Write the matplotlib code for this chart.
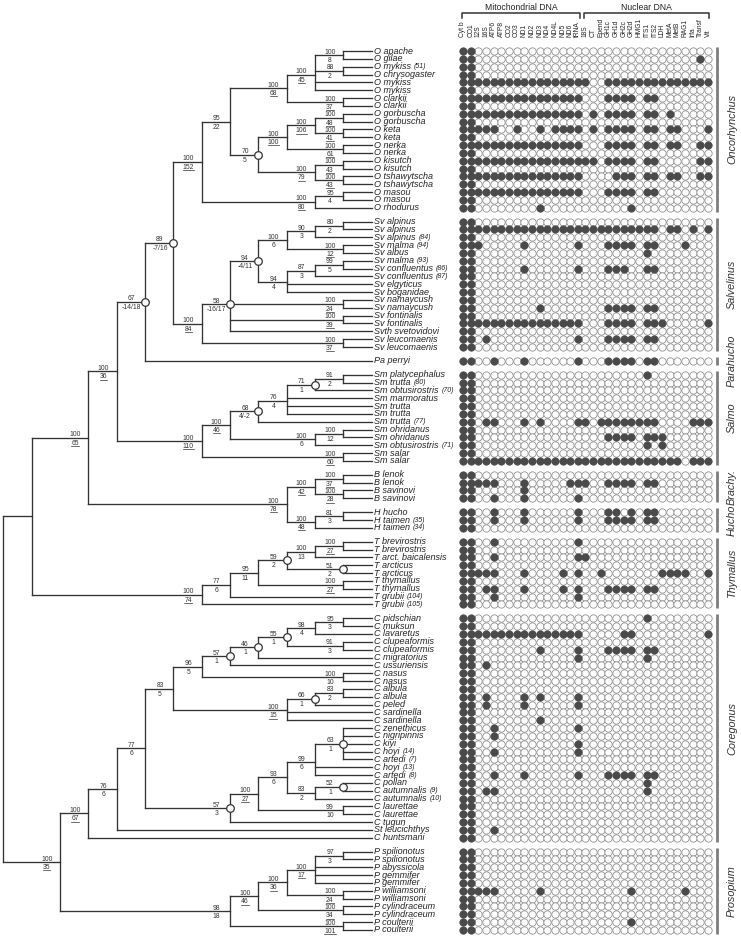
import matplotlib
matplotlib.use('Agg')
import matplotlib.pyplot as plt
import numpy as np

plt.rcParams['font.family'] = ['Liberation Sans', 'DejaVu Sans']

# ---------------- data ----------------
taxa = ["O apache", "O gilae", "O mykiss (51)", "O chrysogaster", "O mykiss", "O mykiss",
        "O clarkii", "O clarkii", "O gorbuscha", "O gorbuscha", "O keta", "O keta",
        "O nerka", "O nerka", "O kisutch", "O kisutch", "O tshawytscha", "O tshawytscha",
        "O masou", "O masou", "O rhodurus",
        "Sv alpinus", "Sv alpinus", "Sv alpinus (84)", "Sv malma (94)", "Sv albus",
        "Sv malma (93)", "Sv confluentus (86)", "Sv confluentus (87)", "Sv elgyticus",
        "Sv boganidae", "Sv namaycush", "Sv namaycush", "Sv fontinalis", "Sv fontinalis",
        "Svth svetovidovi", "Sv leucomaenis", "Sv leucomaenis",
        "Pa perryi",
        "Sm platycephalus", "Sm trutta (80)", "Sm obtusirostris (70)", "Sm marmoratus",
        "Sm trutta", "Sm trutta", "Sm trutta (77)", "Sm ohridanus", "Sm ohridanus",
        "Sm obtusirostris (71)", "Sm salar", "Sm salar",
        "B lenok", "B lenok", "B savinovi", "B savinovi",
        "H hucho", "H taimen (35)", "H taimen (34)",
        "T brevirostris", "T brevirostris", "T arct. baicalensis", "T arcticus", "T arcticus",
        "T thymallus", "T thymallus", "T grubii (104)", "T grubii (105)",
        "C pidschian", "C muksun", "C lavaretus", "C clupeaformis", "C clupeaformis",
        "C migratorius", "C ussuriensis", "C nasus", "C nasus", "C albula", "C albula",
        "C peled", "C sardinella", "C sardinella", "C zenethicus", "C nigripinnis", "C kiyi",
        "C hoyi (14)", "C artedi (7)", "C hoyi (13)", "C artedi (8)", "C pollan",
        "C autumnalis (9)", "C autumnalis (10)", "C laurettae", "C laurettae", "C tugun",
        "St leucichthys", "C huntsmani",
        "P spilionotus", "P spilionotus", "P abyssicola", "P gemmifer", "P gemmifer",
        "P williamsoni", "P williamsoni", "P cylindraceum", "P cylindraceum",
        "P coulterii", "P coulterii"]

groups = ["Oncorhynchus", "Salvelinus", "Parahucho", "Salmo", "Brachy.", "Hucho",
          "Thymallus", "Coregonus", "Prosopium"]
group_sizes = [21, 17, 1, 12, 4, 3, 9, 29, 11]

mito_genes = ["Cyt b", "CO1", "12S", "16S", "ATP6", "ATP8", "CO2", "CO3", "ND1", "ND2",
              "ND3", "ND4", "ND4L", "ND5", "ND6", "tRNA"]
nuclear_genes = ["18S", "CT", "Epend", "GH1c", "GH1d", "GH2c", "GH2d", "HMG1", "ITS1",
                 "ITS2", "LDH", "MetA", "MetB", "RAG1", "Irfa", "Transf", "Vit"]

# filled cells per taxon (column index ranges over mito + nuclear genes)
presence = [
    "0-1", "0-1,31", "0-1", "0-1", "0-16,19-32", "0-1",
    "0-15,19-22,24-25", "0-1", "0-15,17,19-22,24-25,27", "0-1",
    "0-4,7,10,12-15,17,19-22,24-25,27-28,32", "0-1",
    "0-15,19-22,24-25,27-28,31-32", "0-1", "0-17,19-22,24-25,31-32", "0-1",
    "0-15,20-22,24-25,27-28,31-32", "0-1", "0-15,19-22,24-25", "0-1", "0-1,10,22",
    # Salvelinus
    "0-1", "0-25,27-28,30,32", "0-1", "0-2,8,15,19-22,24-25,29", "0-1,24",
    "0-1", "0-1,8,15,19-21,24-25", "0-1", "0-1", "0-1", "0-1",
    "0-1,10,19-22,24-25", "0-1", "0-15,19-22,24-26,32", "0-1",
    "0-1,3,15,19-22,24-25", "0-1",
    # Parahucho
    "0-1,4,8,15,19-22,24-25",
    # Salmo
    "0-1,24", "0-1", "0-1", "0-1", "0-1", "0-1",
    "0-1,3-4,8,10,15-16,18-25,30-32", "0-1", "0-1,19-22,24-26", "0-1,24,26",
    "0-1", "0-28,30-32",
    # Brachymystax
    "0-1", "0-4,8,14-16,19-22,24-25", "0-1,8", "0-1,4,8,15",
    # Hucho
    "0-1,4,8,15,19-20,22,24-25", "0-1,4,8,15,19-22,24-25", "0-1",
    # Thymallus
    "0-1,4,15", "0-1", "0-1,4,15-16", "0-1", "0-4,8,13,15,18,26-29,32", "0-1",
    "0-1,3-4,8,13,15,19-22,24-25", "0-1,4,15", "0-1",
    # Coregonus
    "0-1,24", "0-1", "0-15,21-22,32", "0-1", "0-1,10,15,19-22,24-25", "0-1,15,24",
    "0-1,3", "0-1", "0-1", "0-1", "0-1,3,8,10,15", "0-1,3,8,15", "0-1", "0-1,10",
    "0-1,4,15", "0-1,4", "0-1,15", "0-1,4,15", "0-1", "0-1",
    "0-1,4,8,15,19-22,24-25", "0-1,24", "0-1,3-4,24", "0-1", "0-1", "0-1", "0-1",
    "0-1,4", "0-1",
    # Prosopium
    "0-1", "0-1", "0-1", "0-1", "0-1", "0-4,10,22,29", "0-1", "0-1", "0-1",
    "0-1,22", "0-1",
]

# tree: N(level, top support, bottom support, flags[u=underline, c=circle], children); L = tip
L = None
def N(level, top, bot, flags, children):
    return dict(level=level, top=top, bot=bot, flags=flags, children=children)

ONC = N(7, '100', '152', 'u', [
    N(8, '95', '22', '', [
        N(10, '100', '68', 'u', [
            N(11, '100', '45', 'u', [
                N(12, '100', '8', '', [L, L]),
                N(12, '88', '2', '', [L, L]),
                L, L]),
            N(12, '100', '37', 'u', [L, L])]),
        N(9, '70', '5', 'c', [
            N(10, '100', '100', 'u', [
                N(11, '100', '106', 'u', [
                    N(12, '100', '48', 'u', [L, L]),
                    N(12, '100', '41', 'u', [L, L])]),
                N(12, '100', '61', 'u', [L, L])]),
            N(11, '100', '79', 'u', [
                N(12, '100', '43', 'u', [L, L]),
                N(12, '100', '43', 'u', [L, L])])])]),
    N(11, '100', '80', 'u', [
        N(12, '95', '4', '', [L, L]),
        L])])

SALV = N(7, '100', '84', 'u', [
    N(8, '58', '-16/17', 'c', [
        N(9, '94', '-4/11', 'c', [
            N(10, '100', '6', '', [
                N(11, '90', '3', '', [
                    N(12, '80', '2', '', [L, L]),
                    L]),
                N(12, '100', '12', 'u', [L, L])]),
            N(10, '94', '4', '', [
                N(11, '87', '3', '', [
                    N(12, '99', '5', '', [L, L]),
                    L]),
                L, L])]),
        N(12, '100', '24', 'u', [L, L]),
        N(12, '100', '39', 'u', [L, L]),
        L]),
    N(12, '100', '37', 'u', [L, L])])

SALMO = N(7, '100', '110', 'u', [
    N(8, '100', '46', 'u', [
        N(9, '68', '4/-2', 'c', [
            N(10, '76', '4', '', [
                N(11, '71', '1', 'c', [
                    N(12, '91', '2', '', [L, L]),
                    L]),
                L, L, L]),
            L]),
        N(11, '100', '6', '', [
            N(12, '100', '12', '', [L, L]),
            L])]),
    N(12, '100', '60', 'u', [L, L])])

BH = N(10, '100', '78', 'u', [
    N(11, '100', '42', 'u', [
        N(12, '100', '37', 'u', [L, L]),
        N(12, '100', '28', 'u', [L, L])]),
    N(11, '100', '48', 'u', [
        N(12, '81', '3', '', [L, L]),
        L])])

THY = N(7, '100', '74', 'u', [
    N(8, '77', '6', '', [
        N(9, '95', '11', '', [
            N(10, '59', '2', 'c', [
                N(11, '100', '13', '', [
                    N(12, '100', '27', 'u', [L, L]),
                    L]),
                N(12, '51', '2', 'c', [L, L])]),
            N(12, '100', '27', 'u', [L, L])]),
        L]),
    L])

COREG = N(2, '100', '35', 'u', [
    N(3, '100', '67', 'u', [
        N(4, '76', '6', '', [
            N(5, '77', '6', '', [
                N(6, '83', '5', '', [
                    N(7, '96', '5', '', [
                        N(8, '57', '1', 'c', [
                            N(9, '46', '1', 'c', [
                                N(10, '55', '1', 'c', [
                                    N(11, '98', '4', '', [
                                        N(12, '95', '3', '', [L, L]),
                                        L]),
                                    N(12, '91', '3', '', [L, L])]),
                                L]),
                            L]),
                        N(12, '100', '10', '', [L, L])]),
                    N(10, '100', '15', 'u', [
                        N(11, '66', '1', 'c', [
                            N(12, '83', '2', '', [L, L]),
                            L]),
                        L, L])]),
                N(8, '57', '3', 'c', [
                    N(9, '100', '27', 'u', [
                        N(10, '93', '6', '', [
                            N(11, '99', '6', '', [
                                N(12, '63', '1', 'c', [L, L, L, L, L]),
                                L, L]),
                            N(11, '83', '2', '', [
                                N(12, '52', '1', 'c', [L, L]),
                                L])]),
                        N(12, '99', '10', '', [L, L])]),
                    L])]),
            L]),
        L]),
    N(8, '98', '18', '', [
        N(9, '100', '46', 'u', [
            N(10, '100', '36', 'u', [
                N(11, '100', '17', 'u', [
                    N(12, '97', '3', '', [L, L]),
                    L, L, L]),
                N(12, '100', '24', 'u', [L, L])]),
            N(12, '100', '34', 'u', [L, L])]),
        N(12, '100', '101', 'u', [L, L])])])

TREE = N(0, '', '', '', [
    N(1, '', '', '', [
        N(3, '100', '65', 'u', [
            N(4, '100', '36', 'u', [
                N(5, '67', '-14/18', 'c', [
                    N(6, '89', '-7/16', 'c', [ONC, SALV]),
                    L]),
                SALMO]),
            BH]),
        THY]),
    COREG])

# ---------------- layout ----------------
W, H = 741, 940
fig = plt.figure(figsize=(W / 100, H / 100), dpi=100)

ROW_PX = 7.837
GAP = 0.77
TOP_PX = 51
row_y = []
for gi, n in enumerate(group_sizes):
    for k in range(n):
        row_y.append(len(row_y) + gi * GAP)
row_y = np.array(row_y)
ylim = ((H - TOP_PX) / ROW_PX, -TOP_PX / ROW_PX)
px = 1.0 / ROW_PX  # one pixel in row units

LINE = '#333333'
TIP_LEVEL = 13
LEVEL_PX = 28.33
X0_PX = 3.3
TREE_R_PX = 458
SUP_FS = 4.9

axt = fig.add_axes([0, 0, TREE_R_PX / W, 1])
axt.set_xlim(-X0_PX / LEVEL_PX, (TREE_R_PX - X0_PX) / LEVEL_PX)
axt.set_ylim(*ylim)
axt.axis('off')

tip_iter = iter(range(len(taxa)))
underlined = []
circles = []

def draw(node, parent_level):
    if node is None:
        i = next(tip_iter)
        y = row_y[i]
        axt.plot([parent_level, TIP_LEVEL], [y, y], color=LINE, lw=0.95,
                 solid_capstyle='projecting')
        return y
    ys = [draw(c, node['level']) for c in node['children']]
    y = float(np.mean(ys))
    x = node['level']
    axt.plot([x, x], [min(ys), max(ys)], color=LINE, lw=0.95, solid_capstyle='projecting')
    if parent_level is not None:
        axt.plot([parent_level, x], [y, y], color=LINE, lw=0.95, solid_capstyle='projecting')
    lx = x - 0.47
    if node['top']:
        axt.text(lx, y - 1.4 * px, node['top'], fontsize=SUP_FS, ha='center',
                 va='baseline', color='#333333')
    if node['bot']:
        yb = y + 7.0 * px
        t = axt.text(lx, yb, node['bot'], fontsize=SUP_FS, ha='center', va='baseline',
                     color='#333333')
        if 'u' in node['flags']:
            underlined.append((t, yb + 1.1 * px))
    if 'c' in node['flags']:
        circles.append((x, y))
    return y

draw(TREE, None)
cx, cy = zip(*circles)
axt.scatter(cx, cy, s=30, facecolor='white', edgecolor=LINE, linewidths=0.9, zorder=4)

# tip labels
for i, name in enumerate(taxa):
    if ' (' in name:
        base, suf = name.split(' (')
        t = axt.text(TIP_LEVEL + 2.5 / LEVEL_PX, row_y[i], base, fontsize=6.5,
                     style='italic', ha='left', va='center', color='#222222')
        axt.annotate('(' + suf, xy=(1, 0.5), xycoords=t, xytext=(2.2, 0),
                     textcoords='offset points', fontsize=5, style='italic',
                     ha='left', va='center', color='#222222')
    else:
        axt.text(TIP_LEVEL + 2.5 / LEVEL_PX, row_y[i], name, fontsize=6.5,
                 style='italic', ha='left', va='center', color='#222222')

# ---------------- matrix ----------------
genes = mito_genes + nuclear_genes
MX_L_PX = 458
COL0_PX = 463
COL_PX = 7.656
axm = fig.add_axes([MX_L_PX / W, 0, 1 - MX_L_PX / W, 1])
axm.set_xlim(-(COL0_PX - MX_L_PX) / COL_PX, (W - COL0_PX) / COL_PX)
axm.set_ylim(*ylim)
axm.axis('off')

def parse(s):
    cells = set()
    for part in s.split(','):
        if '-' in part:
            a, b = part.split('-')
            cells.update(range(int(a), int(b) + 1))
        else:
            cells.add(int(part))
    return cells

fx, fy, ex, ey = [], [], [], []
for i, s in enumerate(presence):
    filled = parse(s)
    for j in range(len(genes)):
        if j in filled:
            fx.append(j); fy.append(row_y[i])
        else:
            ex.append(j); ey.append(row_y[i])
axm.scatter(ex, ey, s=28, facecolor='white', edgecolor='#8f8f8f', linewidths=0.6, zorder=2)
axm.scatter(fx, fy, s=28, facecolor='#4a4a4a', edgecolor='#4a4a4a', linewidths=0.6, zorder=3)

# gene headers
hdr_y = -(TOP_PX - 37) / ROW_PX
for j, g in enumerate(genes):
    axm.text(j, hdr_y, g, rotation=90, fontsize=4.8, ha='center', va='bottom', color='#222222')

# brackets
def bracket(c0, c1, title):
    yb = -(TOP_PX - 13.3) / ROW_PX
    yt = -(TOP_PX - 17.5) / ROW_PX
    axm.plot([c0, c0, c1, c1], [yt, yb, yb, yt], color=LINE, lw=1.1)
    axm.text((c0 + c1) / 2, -(TOP_PX - 7) / ROW_PX, title, fontsize=6.2, ha='center',
             va='center', color='#222222')

bracket(-0.17, len(mito_genes) - 1 + 0.28, 'Mitochondrial DNA')
bracket(len(mito_genes) - 0.2, len(genes) - 1 + 0.13, 'Nuclear DNA')

# group bars and names
BAR_X = (717 - COL0_PX) / COL_PX
NAME_X = (732 - COL0_PX) / COL_PX
start = 0
for gname, n in zip(groups, group_sizes):
    y0 = row_y[start] - 0.5
    y1 = row_y[start + n - 1] + 0.5
    axm.plot([BAR_X, BAR_X], [y0, y1], color='#7d7d7d', lw=2.0, solid_capstyle='butt')
    axm.text(NAME_X, (y0 + y1) / 2, gname, rotation=90, fontsize=7.8, style='italic',
             ha='center', va='center', color='#333333')
    start += n

# underlines for supported numbers
fig.canvas.draw()
renderer = fig.canvas.get_renderer()
inv = axt.transData.inverted()
for t, yu in underlined:
    bb = t.get_window_extent(renderer)
    (x0, _), (x1, _) = inv.transform([(bb.x0, bb.y0), (bb.x1, bb.y0)])
    axt.plot([x0, x1], [yu, yu], color='#333333', lw=0.5)

fig.savefig('out.png', dpi=100)
